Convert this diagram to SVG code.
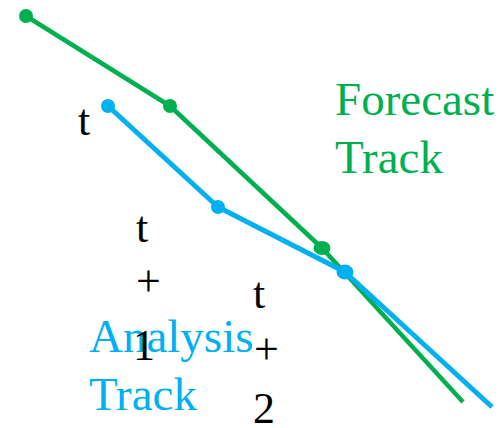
<svg xmlns="http://www.w3.org/2000/svg" width="501" height="428" viewBox="0 0 501 428">
<style>
.lbl{font-family:"Liberation Serif","Times New Roman",serif;font-size:44px;fill:#000}
.big{font-family:"Liberation Serif","Times New Roman",serif;font-size:47px}
.g{stroke:#00B050;fill:none;stroke-width:4.5;stroke-linejoin:round}
.b{stroke:#00B0F0;fill:none;stroke-width:5;stroke-linejoin:round}
.gd{fill:#00B050}
.bd{fill:#00B0F0}
</style>
<rect width="501" height="428" fill="#fff"/>
<g id="connectors">
<polyline class="g" points="26,16 170,106 322,248 463,402"/>
<polyline class="b" points="108,106 218,207 345,272 492,407"/>
</g>
<g id="forecast-points">
<circle class="gd" cx="26" cy="16" r="7"/>
<circle class="gd" cx="170" cy="106" r="7"/>
<ellipse class="gd" cx="322" cy="248" rx="8.5" ry="7"/>
</g>
<g id="analysis-points">
<circle class="bd" cx="108" cy="106" r="7"/>
<circle class="bd" cx="218" cy="207" r="7"/>
<ellipse class="bd" cx="345" cy="272" rx="8.5" ry="7.5"/>
</g>
<g id="forecast-label">
<text class="big" fill="#00B050" x="335" y="115">Forecast</text>
<text class="big" fill="#00B050" x="335" y="173">Track</text>
</g>
<g id="analysis-label">
<text class="big" fill="#00B0F0" x="89" y="352">Analysis</text>
<text class="big" fill="#00B0F0" x="89" y="410">Track</text>
</g>
<g id="time-t">
<text class="lbl" x="78" y="135">t</text>
</g>
<g id="time-t1">
<text class="lbl" x="136" y="242">t</text>
<text class="lbl" x="136" y="296">+</text>
<text class="lbl" x="133" y="360">1</text>
</g>
<g id="time-t2">
<text class="lbl" x="253" y="308">t</text>
<text class="lbl" x="254" y="364">+</text>
<text class="lbl" x="253" y="423">2</text>
</g>
</svg>
